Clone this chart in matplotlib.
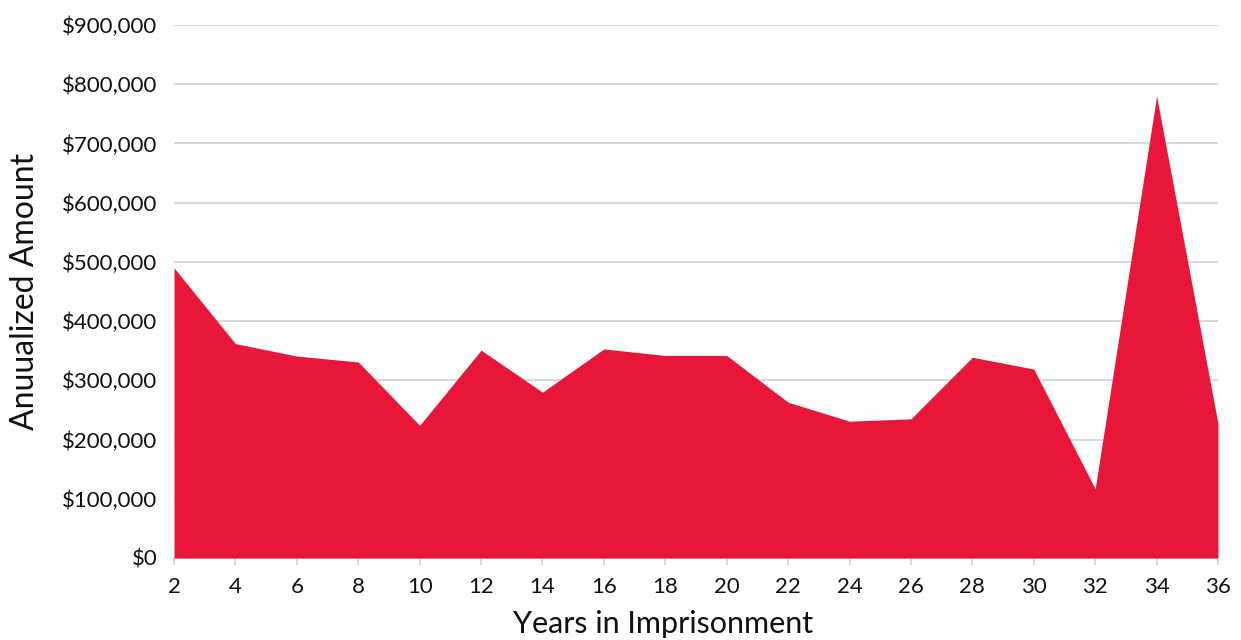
import numpy as np
import matplotlib
matplotlib.use('Agg')
import matplotlib.pyplot as plt
from matplotlib.ticker import FuncFormatter

# data
years = [2, 4, 6, 8, 10, 12, 14, 16, 18, 20, 22, 24, 26, 28, 30, 32, 34, 36]
amounts = [490000, 362000, 341000, 331000, 224000, 351000, 280000, 353000, 342000,
           342000, 263000, 231000, 235000, 339000, 319000, 117000, 780000, 227000]
y_ticks = [0, 100000, 200000, 300000, 400000, 500000, 600000, 700000, 800000, 900000]

plt.rcParams['font.family'] = ['Lato', 'DejaVu Sans']

fig = plt.figure(figsize=(12.41, 6.4), dpi=100)
ax = fig.add_axes([174/1241, 1 - 558/640, (1218 - 174)/1241, (558 - 25)/640])

ax.fill_between(years, amounts, 0, color='#e8173a', linewidth=0, zorder=3)

ax.set_xlim(2, 36)
ax.set_ylim(0, 900000)
ax.set_xticks(years)
ax.set_yticks(y_ticks)
ax.yaxis.set_major_formatter(FuncFormatter(lambda v, p: f'${v:,.0f}'))

ax.grid(axis='y', color='#d9d9d9', linewidth=1.5, zorder=0)
ax.set_axisbelow(True)
for s in ['top', 'right', 'left']:
    ax.spines[s].set_visible(False)
ax.spines['bottom'].set_color('#d9d9d9')
ax.spines['bottom'].set_linewidth(1.5)

ax.tick_params(axis='y', length=0, pad=12, labelsize=16, colors='#111111')
ax.tick_params(axis='x', length=5, width=1.2, color='#d0d0d0', pad=9, labelsize=16, labelcolor='#111111')

ax.set_ylabel('Anuualized Amount', fontsize=23, color='#111111')
ax.yaxis.set_label_coords(-0.128, 0.5)
ax.set_xlabel('Years in Imprisonment', fontsize=22, color='#111111')
ax.xaxis.set_label_coords(0.468, -0.097)

fig.savefig('out.png', dpi=100)
